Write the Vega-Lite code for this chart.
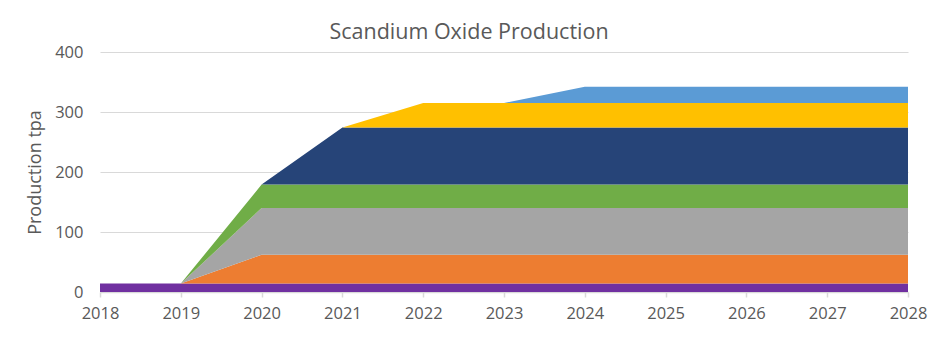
{
  "$schema": "https://vega.github.io/schema/vega-lite/v6.json",
  "width": 808,
  "height": 240,
  "autosize": {"type": "none"},
  "padding": {"left": 100, "top": 52, "right": 32, "bottom": 65},
  "background": "white",
  "title": {
    "text": "Scandium Oxide Production",
    "font": "Open Sans",
    "fontSize": 21.5,
    "fontWeight": "normal",
    "color": "#595959",
    "anchor": "middle",
    "offset": 1,
    "dx": -35
  },
  "config": {"view": {"stroke": null}},
  "data": {
    "values": [
      {"year": 2018, "series": "P", "ord": 1, "value": 14},
      {"year": 2019, "series": "P", "ord": 1, "value": 14},
      {"year": 2020, "series": "P", "ord": 1, "value": 14},
      {"year": 2021, "series": "P", "ord": 1, "value": 14},
      {"year": 2022, "series": "P", "ord": 1, "value": 14},
      {"year": 2023, "series": "P", "ord": 1, "value": 14},
      {"year": 2024, "series": "P", "ord": 1, "value": 14},
      {"year": 2025, "series": "P", "ord": 1, "value": 14},
      {"year": 2026, "series": "P", "ord": 1, "value": 14},
      {"year": 2027, "series": "P", "ord": 1, "value": 14},
      {"year": 2028, "series": "P", "ord": 1, "value": 14},
      {"year": 2018, "series": "O", "ord": 2, "value": 0},
      {"year": 2019, "series": "O", "ord": 2, "value": 0},
      {"year": 2020, "series": "O", "ord": 2, "value": 48},
      {"year": 2021, "series": "O", "ord": 2, "value": 48},
      {"year": 2022, "series": "O", "ord": 2, "value": 48},
      {"year": 2023, "series": "O", "ord": 2, "value": 48},
      {"year": 2024, "series": "O", "ord": 2, "value": 48},
      {"year": 2025, "series": "O", "ord": 2, "value": 48},
      {"year": 2026, "series": "O", "ord": 2, "value": 48},
      {"year": 2027, "series": "O", "ord": 2, "value": 48},
      {"year": 2028, "series": "O", "ord": 2, "value": 48},
      {"year": 2018, "series": "G", "ord": 3, "value": 0},
      {"year": 2019, "series": "G", "ord": 3, "value": 0},
      {"year": 2020, "series": "G", "ord": 3, "value": 78},
      {"year": 2021, "series": "G", "ord": 3, "value": 78},
      {"year": 2022, "series": "G", "ord": 3, "value": 78},
      {"year": 2023, "series": "G", "ord": 3, "value": 78},
      {"year": 2024, "series": "G", "ord": 3, "value": 78},
      {"year": 2025, "series": "G", "ord": 3, "value": 78},
      {"year": 2026, "series": "G", "ord": 3, "value": 78},
      {"year": 2027, "series": "G", "ord": 3, "value": 78},
      {"year": 2028, "series": "G", "ord": 3, "value": 78},
      {"year": 2018, "series": "Gr", "ord": 4, "value": 0},
      {"year": 2019, "series": "Gr", "ord": 4, "value": 0},
      {"year": 2020, "series": "Gr", "ord": 4, "value": 39},
      {"year": 2021, "series": "Gr", "ord": 4, "value": 39},
      {"year": 2022, "series": "Gr", "ord": 4, "value": 39},
      {"year": 2023, "series": "Gr", "ord": 4, "value": 39},
      {"year": 2024, "series": "Gr", "ord": 4, "value": 39},
      {"year": 2025, "series": "Gr", "ord": 4, "value": 39},
      {"year": 2026, "series": "Gr", "ord": 4, "value": 39},
      {"year": 2027, "series": "Gr", "ord": 4, "value": 39},
      {"year": 2028, "series": "Gr", "ord": 4, "value": 39},
      {"year": 2018, "series": "N", "ord": 5, "value": 0},
      {"year": 2019, "series": "N", "ord": 5, "value": 0},
      {"year": 2020, "series": "N", "ord": 5, "value": 0},
      {"year": 2021, "series": "N", "ord": 5, "value": 95},
      {"year": 2022, "series": "N", "ord": 5, "value": 95},
      {"year": 2023, "series": "N", "ord": 5, "value": 95},
      {"year": 2024, "series": "N", "ord": 5, "value": 95},
      {"year": 2025, "series": "N", "ord": 5, "value": 95},
      {"year": 2026, "series": "N", "ord": 5, "value": 95},
      {"year": 2027, "series": "N", "ord": 5, "value": 95},
      {"year": 2028, "series": "N", "ord": 5, "value": 95},
      {"year": 2018, "series": "Y", "ord": 6, "value": 0},
      {"year": 2019, "series": "Y", "ord": 6, "value": 0},
      {"year": 2020, "series": "Y", "ord": 6, "value": 0},
      {"year": 2021, "series": "Y", "ord": 6, "value": 0},
      {"year": 2022, "series": "Y", "ord": 6, "value": 41},
      {"year": 2023, "series": "Y", "ord": 6, "value": 41},
      {"year": 2024, "series": "Y", "ord": 6, "value": 41},
      {"year": 2025, "series": "Y", "ord": 6, "value": 41},
      {"year": 2026, "series": "Y", "ord": 6, "value": 41},
      {"year": 2027, "series": "Y", "ord": 6, "value": 41},
      {"year": 2028, "series": "Y", "ord": 6, "value": 41},
      {"year": 2018, "series": "B", "ord": 7, "value": 0},
      {"year": 2019, "series": "B", "ord": 7, "value": 0},
      {"year": 2020, "series": "B", "ord": 7, "value": 0},
      {"year": 2021, "series": "B", "ord": 7, "value": 0},
      {"year": 2022, "series": "B", "ord": 7, "value": 0},
      {"year": 2023, "series": "B", "ord": 7, "value": 0},
      {"year": 2024, "series": "B", "ord": 7, "value": 27},
      {"year": 2025, "series": "B", "ord": 7, "value": 27},
      {"year": 2026, "series": "B", "ord": 7, "value": 27},
      {"year": 2027, "series": "B", "ord": 7, "value": 27},
      {"year": 2028, "series": "B", "ord": 7, "value": 27}
    ]
  },
  "mark": {"type": "area", "interpolate": "linear"},
  "encoding": {
    "x": {
      "field": "year",
      "type": "quantitative",
      "scale": {"domain": [2018, 2028], "nice": false, "zero": false},
      "axis": {
        "title": null,
        "values": [2018, 2019, 2020, 2021, 2022, 2023, 2024, 2025, 2026, 2027, 2028],
        "format": "d",
        "grid": false,
        "labelFlush": false,
        "labelOverlap": false,
        "domainColor": "#d9d9d9",
        "domainWidth": 1.5,
        "tickColor": "#d9d9d9",
        "tickSize": 5,
        "tickWidth": 1.5,
        "labelFont": "Open Sans",
        "labelFontSize": 16.5,
        "labelColor": "#595959",
        "labelPadding": 8
      }
    },
    "y": {
      "field": "value",
      "type": "quantitative",
      "stack": "zero",
      "scale": {"domain": [0, 400], "nice": false},
      "axis": {
        "title": "Production tpa",
        "titleFont": "Open Sans",
        "titleFontSize": 18,
        "titleFontWeight": "normal",
        "titleColor": "#595959",
        "titlePadding": 10,
        "values": [0, 100, 200, 300, 400],
        "domain": false,
        "ticks": false,
        "labelFlush": false,
        "gridColor": "#d9d9d9",
        "gridWidth": 1.2,
        "labelFont": "Open Sans",
        "labelFontSize": 16.5,
        "labelColor": "#595959",
        "labelPadding": 17
      }
    },
    "color": {
      "field": "series",
      "type": "nominal",
      "scale": {
        "domain": ["P", "O", "G", "Gr", "N", "Y", "B"],
        "range": ["#7030A0", "#ED7D31", "#A5A5A5", "#70AD47", "#264478", "#FFC000", "#5B9BD5"]
      },
      "legend": null
    },
    "order": {"field": "ord", "type": "quantitative", "sort": "ascending"}
  }
}
